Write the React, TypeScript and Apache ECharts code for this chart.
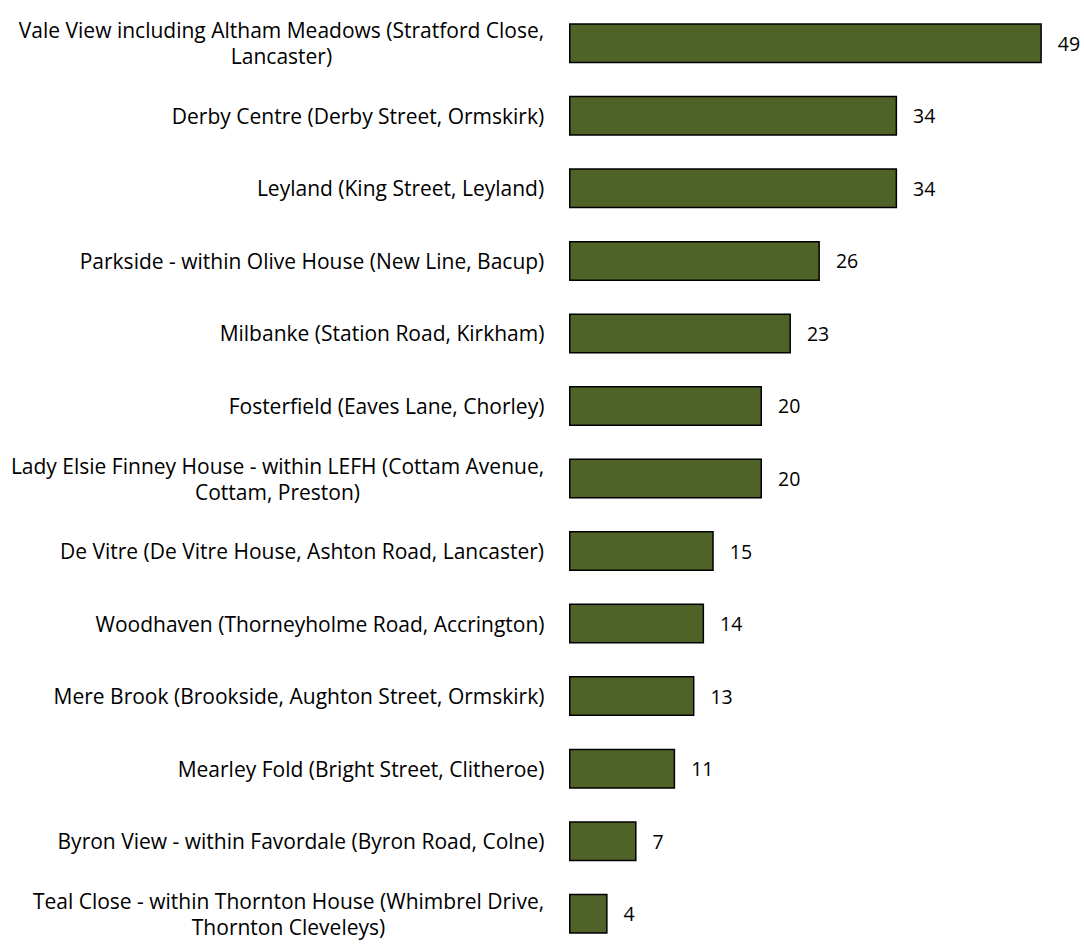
import React, { useEffect, useRef } from "react";
import * as echarts from "echarts";

const categories = [
  "Vale View including Altham Meadows (Stratford Close,\nLancaster)",
  "Derby Centre (Derby Street, Ormskirk)",
  "Leyland (King Street, Leyland)",
  "Parkside - within Olive House (New Line, Bacup)",
  "Milbanke (Station Road, Kirkham)",
  "Fosterfield (Eaves Lane, Chorley)",
  "Lady Elsie Finney House - within LEFH (Cottam Avenue,\nCottam, Preston)",
  "De Vitre (De Vitre House, Ashton Road, Lancaster)",
  "Woodhaven (Thorneyholme Road, Accrington)",
  "Mere Brook (Brookside, Aughton Street, Ormskirk)",
  "Mearley Fold (Bright Street, Clitheroe)",
  "Byron View - within Favordale (Byron Road, Colne)",
  "Teal Close - within Thornton House (Whimbrel Drive,\nThornton Cleveleys)",
];
const values = [49, 34, 34, 26, 23, 20, 20, 15, 14, 13, 11, 7, 4];

const FONT = "'Open Sans', sans-serif";
const FS = 21;
const LH = 26;

export default function App() {
  const ref = useRef<HTMLDivElement>(null);
  useEffect(() => {
    if (!ref.current) return;
    const canvas = document.createElement("canvas");
    const ctx = canvas.getContext("2d")!;
    ctx.font = `${FS}px ${FONT}`;
    const rich: Record<string, any> = {};
    categories.forEach((c, i) => {
      const w = Math.max(...c.split("\n").map((l) => ctx.measureText(l).width));
      rich["c" + i] = {
        width: Math.ceil(w) + 1,
        align: "center",
        fontSize: FS,
        fontFamily: FONT,
        color: "#000",
        lineHeight: LH,
      };
    });
    const chart = echarts.init(ref.current, null, { renderer: "svg" });
    chart.setOption({
      animation: false,
      grid: { left: 569, top: 7, width: 482.5, height: 955.5, containLabel: false },
      xAxis: { type: "value", min: 0, max: 50, show: false },
      yAxis: {
        type: "category",
        data: categories,
        inverse: true,
        axisLine: { show: false },
        axisTick: { show: false },
        axisLabel: {
          margin: 24,
          fontSize: FS,
          fontFamily: FONT,
          color: "#000",
          align: "right",
          lineHeight: LH,
          formatter: (v: string, idx: number) =>
            v.split("\n").map((l) => `{c${idx}|${l}}`).join("\n"),
          rich,
        },
      },
      series: [
        {
          type: "bar",
          data: values,
          barWidth: 40,
          itemStyle: { color: "#4F6228", borderColor: "#000", borderWidth: 1.5 },
          label: {
            show: true,
            position: "right",
            distance: 16,
            fontSize: 19.5,
            fontFamily: FONT,
            color: "#000",
          },
        },
      ],
    });
    return () => chart.dispose();
  }, []);
  return <div ref={ref} style={{ width: 1084, height: 950, position: "absolute", left: 0, top: 0 }} />;
}
